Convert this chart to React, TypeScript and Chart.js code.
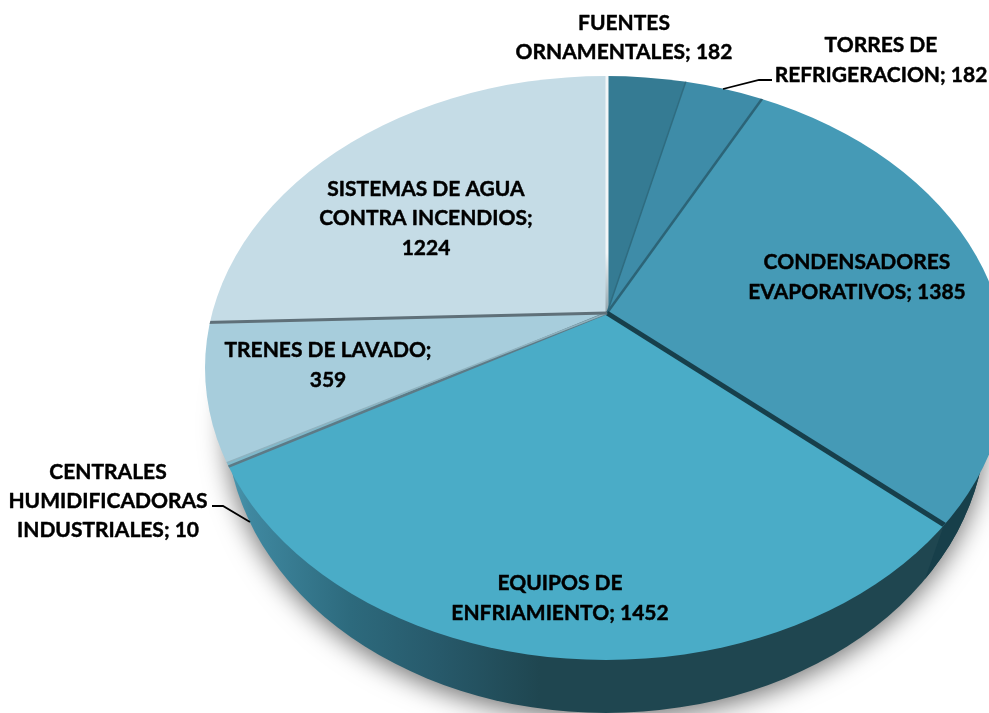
import React, { useEffect, useRef } from "react";
import { Chart, registerables } from "chart.js";

Chart.register(...registerables);

const categories = [
  "FUENTES ORNAMENTALES",
  "TORRES DE REFRIGERACION",
  "CONDENSADORES EVAPORATIVOS",
  "EQUIPOS DE ENFRIAMIENTO",
  "CENTRALES HUMIDIFICADORAS INDUSTRIALES",
  "TRENES DE LAVADO",
  "SISTEMAS DE AGUA CONTRA INCENDIOS",
];
const values = [182, 182, 1385, 1452, 10, 359, 1224];
const colors = ["#357b93", "#3e8ca8", "#459ab6", "#4aacc7", "#7fb9cb", "#a7cddc", "#c5dce6"];

const labelLines = [
  ["FUENTES", "ORNAMENTALES; 182"],
  ["TORRES DE", "REFRIGERACION; 182"],
  ["CONDENSADORES", "EVAPORATIVOS; 1385"],
  ["EQUIPOS DE", "ENFRIAMIENTO; 1452"],
  ["CENTRALES", "HUMIDIFICADORAS", "INDUSTRIALES; 10"],
  ["TRENES DE LAVADO;", "359"],
  ["SISTEMAS DE AGUA", "CONTRA INCENDIOS;", "1224"],
];
// Centre x and first-line y of each label
const labelPos = [
  [624, 23],
  [881, 45],
  [857, 262],
  [560, 583],
  [108, 472],
  [328, 350],
  [426, 189],
];
const lineGap = [29, 30, 30, 30, 29, 30, 29.5];

// Seam drawn at the START angle of each slice: colour, width
const seams: [string, number][] = [
  ["#f2f6f8", 3],
  ["#2f6c80", 1.5],
  ["#2c6477", 2.5],
  ["#173f4b", 5],
  ["#5d7a86", 2.5],
  ["#8fb2bf", 1.5],
  ["#5f7079", 3],
];

const leaders = [
  [[723, 89], [759, 80], [772, 80]],
  [[212, 506], [223, 506], [250, 522]],
];

const TOP = { cx: 606, cy: 368, rx: 401, ry: 292 };
const WALL = { cx: 606, cy: 420, rx: 380, ry: 293 };
const SQUASH = 0.714;

const pie3d = {
  id: "pie3d",
  beforeDatasetsDraw(chart: any) {
    const { ctx } = chart;
    const arc = chart.getDatasetMeta(0).data[0];
    // side wall with soft shadow
    ctx.save();
    const g = ctx.createLinearGradient(226, 0, 986, 0);
    const stop = (x: number, c: string) => g.addColorStop((x - 226) / 760, c);
    stop(226, "#4d9ab2");
    stop(250, "#3f88a0");
    stop(350, "#2d6a7d");
    stop(440, "#27596a");
    stop(540, "#1f4650");
    stop(986, "#1f4650");
    ctx.fillStyle = g;
    ctx.shadowColor = "rgba(0,0,0,0.55)";
    ctx.shadowBlur = 26;
    ctx.shadowOffsetY = 6;
    ctx.beginPath();
    ctx.ellipse(WALL.cx, WALL.cy, WALL.rx, WALL.ry, 0, 0, Math.PI * 2);
    ctx.fill();
    ctx.shadowColor = "transparent";
    ctx.clip();
    // darker wall of the condensadores slice, behind its slanted seam
    ctx.fillStyle = "#173f4a";
    ctx.beginPath();
    ctx.moveTo(945, 522);
    ctx.lineTo(923, 585);
    ctx.lineTo(1000, 585);
    ctx.lineTo(1000, 400);
    ctx.closePath();
    ctx.fill();
    ctx.restore();
    // pie top: wedges from the apex, squashed and clipped to the rim ellipse
    ctx.save();
    ctx.beginPath();
    ctx.ellipse(TOP.cx, TOP.cy, TOP.rx, TOP.ry, 0, 0, Math.PI * 2);
    ctx.clip();
    ctx.translate(arc.x, arc.y);
    ctx.scale(1, SQUASH);
    ctx.translate(-arc.x, -arc.y);
  },
  afterDatasetsDraw(chart: any) {
    const { ctx } = chart;
    ctx.restore();
    const data = chart.getDatasetMeta(0).data;
    ctx.save();
    ctx.beginPath();
    ctx.ellipse(TOP.cx, TOP.cy, TOP.rx, TOP.ry, 0, 0, Math.PI * 2);
    ctx.clip();
    data.forEach((a: any, i: number) => {
      const [color, width] = seams[i];
      const ex = a.x + 800 * Math.cos(a.startAngle);
      const ey = a.y + 800 * SQUASH * Math.sin(a.startAngle);
      if (i === 0) {
        const s = ctx.createLinearGradient(0, a.y, 0, a.y - 60);
        s.addColorStop(0, "#8fa3ab");
        s.addColorStop(1, color);
        ctx.strokeStyle = s;
      } else {
        ctx.strokeStyle = color;
      }
      ctx.lineWidth = width;
      ctx.beginPath();
      ctx.moveTo(a.x, a.y);
      ctx.lineTo(ex, ey);
      ctx.stroke();
    });
    ctx.restore();
  },
  afterDraw(chart: any) {
    const { ctx } = chart;
    ctx.save();
    ctx.strokeStyle = "#000000";
    ctx.lineWidth = 1.8;
    leaders.forEach((pts) => {
      ctx.beginPath();
      pts.forEach((p, i) => (i ? ctx.lineTo(p[0], p[1]) : ctx.moveTo(p[0], p[1])));
      ctx.stroke();
    });
    ctx.fillStyle = "#000000";
    ctx.font = "bold 21px Lato";
    ctx.textAlign = "center";
    ctx.textBaseline = "middle";
    ctx.lineWidth = 0.45;
    ctx.lineJoin = "round";
    labelLines.forEach((lines, i) => {
      lines.forEach((t, j) => {
        const x = labelPos[i][0];
        const y = labelPos[i][1] + j * lineGap[i];
        ctx.fillText(t, x, y);
        ctx.strokeText(t, x, y);
      });
    });
    ctx.restore();
  },
};

export default function App() {
  const ref = useRef<HTMLCanvasElement>(null);
  useEffect(() => {
    document.body.style.margin = "0";
    const chart = new Chart(ref.current as HTMLCanvasElement, {
      type: "pie",
      data: {
        labels: categories,
        datasets: [{ data: values, backgroundColor: colors, borderWidth: 0 }],
      },
      options: {
        responsive: false,
        animation: false,
        radius: 1100,
        layout: { padding: { left: 225, right: 0, top: 0, bottom: 87 } },
        plugins: { legend: { display: false }, tooltip: { enabled: false } },
      } as any,
      plugins: [pie3d],
    });
    return () => chart.destroy();
  }, []);
  return <canvas ref={ref} width={989} height={713} style={{ display: "block" }} />;
}
